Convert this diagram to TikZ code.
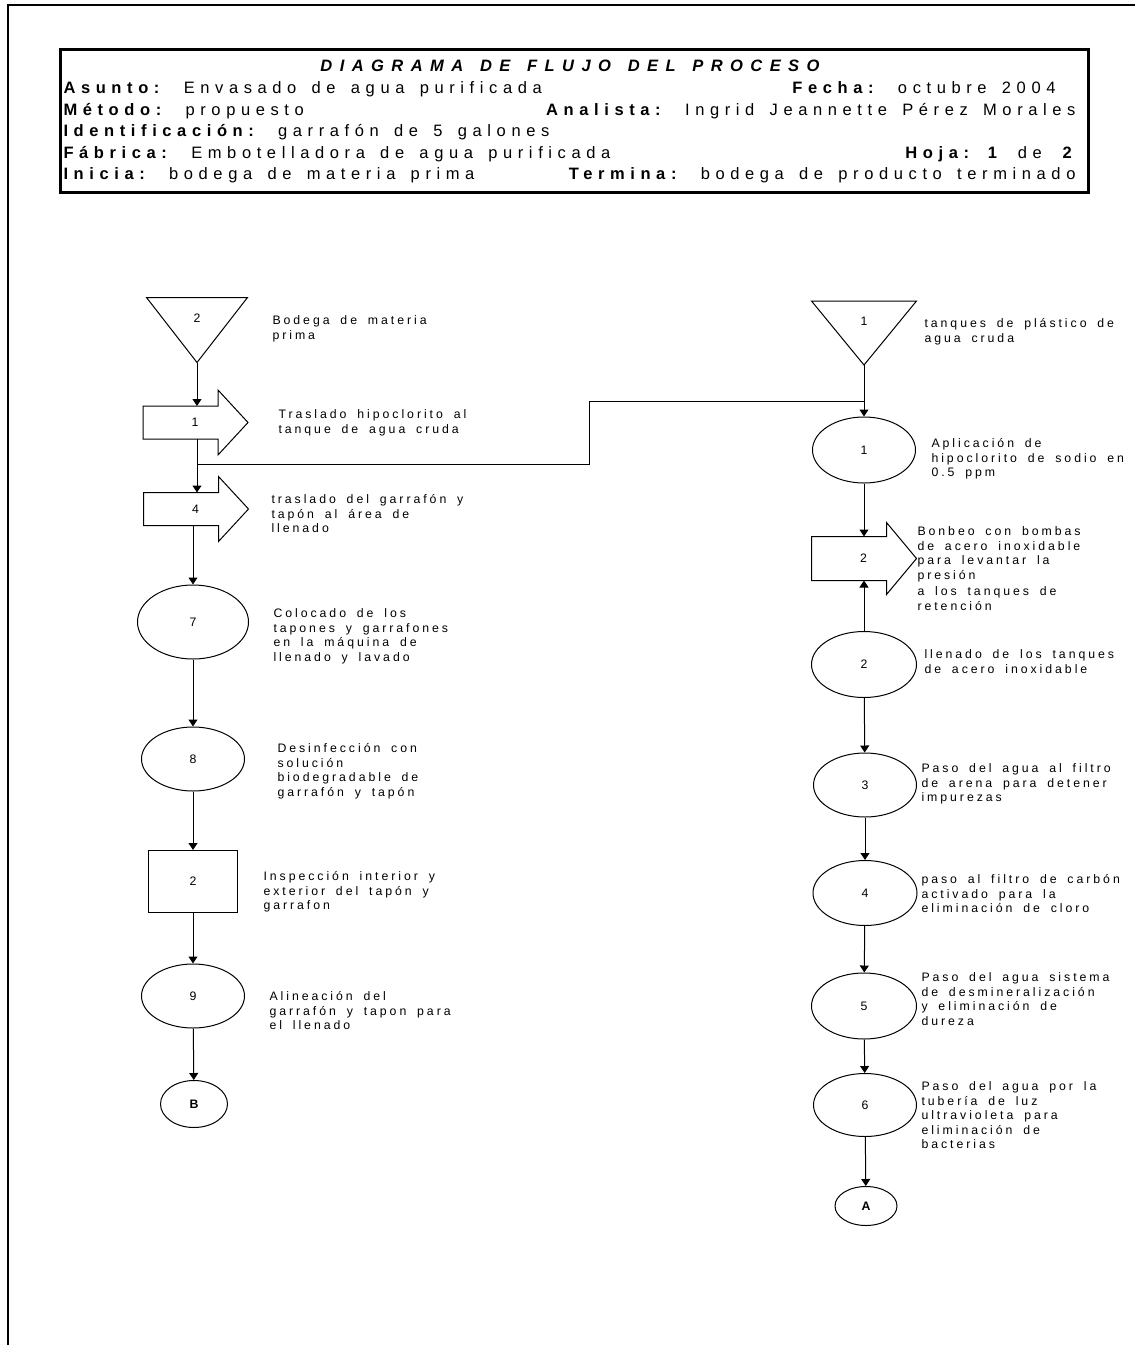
\documentclass[tikz,border=0pt]{standalone}
\usepackage{fontspec}
\setmainfont{Liberation Sans}
\newfontfamily\hdrfont[LetterSpace=34,WordSpace=1.5]{Liberation Sans}
\newfontfamily\titfont[LetterSpace=45,WordSpace=1.4]{Liberation Sans}
\newfontfamily\lblfont[LetterSpace=24,WordSpace=1.7]{Liberation Sans}
\usetikzlibrary{arrows.meta,calc,positioning,shapes.geometric}
\newcommand\hdrsize{\hdrfont\fontsize{16.5}{21.5}\selectfont}
\newcommand\lblsize{\lblfont\fontsize{12.3}{14.6}\selectfont}

\begin{document}
\begin{tikzpicture}[x=1pt,y=-1pt,line width=1pt,>={Triangle[length=7pt,width=9pt]},
 hdr/.style={font=\hdrsize,inner sep=0},
 num/.style={font=\lblsize,inner sep=0},
 lbl/.style={font=\lblsize,align=left,anchor=north west,inner sep=0},
 almbox/.style={minimum width=100,minimum height=64,inner sep=0,
  label={[num,yshift=12]center:#1}},
 trbody/.style={minimum width=74,minimum height=32,inner sep=0,
  label={[num,xshift=14.5]center:#1}},
 oper/.style={ellipse,draw,minimum width=103,minimum height=64,num},
 insp/.style={rectangle,draw,minimum width=89,minimum height=62,num},
 conec/.style={ellipse,draw,num,font=\lblsize\bfseries}]
 \useasboundingbox (0,0) rectangle (1135,1345);
 \draw[line width=2.5] (8,1345) -- (8,5) -- (1135,5);
 \draw[line width=3] (60,49) rectangle (1088,192);
 \node[hdr,anchor=base] (titulo) at (570,71)
  {\titfont\bfseries\itshape DIAGRAMA DE FLUJO DEL PROCESO};
 \node[hdr,anchor=base west] (asunto) at (63,93)
  {\textbf{Asunto:} Envasado de agua purificada};
 \node[hdr,anchor=base east] (fecha) at (1056,93) {\textbf{Fecha:} octubre 2004};
 \node[hdr,anchor=base west] (metodo) at (63,115) {\textbf{Método:} propuesto};
 \node[hdr,anchor=base east] (analista) at (1076,115)
  {\textbf{Analista:} Ingrid Jeannette Pérez Morales};
 \node[hdr,anchor=base west] (ident) at (63,136)
  {\textbf{Identificación:} garrafón de 5 galones};
 \node[hdr,anchor=base west] (fabrica) at (63,158)
  {\textbf{Fábrica:} Embotelladora de agua purificada};
 \node[hdr,anchor=base east] (hoja) at (1078,158) {\textbf{Hoja: 1} de \textbf{2}};
 \node[hdr,anchor=base west] (inicia) at (63,179)
  {\textbf{Inicia:} bodega de materia prima};
 \node[hdr,anchor=base east] (termina) at (1076,179)
  {\textbf{Termina:} bodega de producto terminado};

 \node[almbox=2] (s2) at (197,330) {};
 \node[trbody=1] (t1) at (180.5,422.5) {};
 \node[trbody=4] (t4) at (181,509) {};
 \node[oper,minimum width=111,minimum height=74] (e7) at (193,622) {7};
 \node[oper] (e8) at (193,759) {8};
 \node[insp] (i2) at (193,881.5) {2};
 \node[oper] (e9) at (193,996) {9};
 \node[conec,minimum width=67,minimum height=47] (cB) at (194,1104) {B};

 \node[almbox=1,minimum width=104,minimum height=63] (s1) at (864,333) {};
 \node[oper,minimum height=66] (r1) at (864,450) {1};
 \node[trbody=2,minimum height=43] (t2) at (849,558.5) {};
 \node[oper,minimum width=105,minimum height=66] (r2) at (864,664.5) {2};
 \node[oper] (r3) at (865,785) {3};
 \node[oper,minimum width=104,minimum height=65] (r4) at (865,893) {4};
 \node[oper,minimum width=105,minimum height=66] (r5) at (864,1006) {5};
 \node[oper,minimum height=63] (r6) at (865,1105) {6};
 \node[conec,minimum width=62,minimum height=39] (cA) at (866,1206) {A};

 \foreach \s in {s2,s1}
  \draw (\s.north west) -- (\s.north east) -- (\s.south) -- cycle;
 \foreach \t/\h in {t1/16,t4/16,t2/14}
  \draw (\t.north west) -- (\t.north east) -- ([yshift=\h]\t.north east)
   -- ([xshift=30]\t.east) -- ([yshift=-\h]\t.south east) -- (\t.south east)
   -- (\t.south west) -- cycle;

 \node[lbl] (s2txt) at (272,315) {Bodega de materia\\prima};
 \node[lbl] (t1txt) at (278,409) {Traslado hipoclorito al\\tanque de agua cruda};
 \node[lbl] (t4txt) at (271,494) {traslado del garrafón y\\tapón al área de\\llenado};
 \node[lbl] (e7txt) at (273,608)
  {Colocado de los\\tapones y garrafones\\en la máquina de\\llenado y lavado};
 \node[lbl] (e8txt) at (277,743)
  {Desinfección con\\solución\\biodegradable de\\garrafón y tapón};
 \node[lbl] (i2txt) at (263,871) {Inspección interior y\\exterior del tapón y\\garrafon};
 \node[lbl] (e9txt) at (269,991) {Alineación del\\garrafón y tapon para\\el llenado};
 \node[lbl] (s1txt) at (924,318) {tanques de plástico de\\agua cruda};
 \node[lbl] (r1txt) at (931,438) {Aplicación de\\hipoclorito de sodio en\\0.5 ppm};
 \node[lbl] (t2txt) at (917,526)
  {Bonbeo con bombas\\de acero inoxidable\\para levantar la\\presión\\[2pt]a los tanques de\\retención};
 \node[lbl] (r2txt) at (924,649) {llenado de los tanques\\de acero inoxidable};
 \node[lbl] (r3txt) at (921,763) {Paso del agua al filtro\\de arena para detener\\impurezas};
 \node[lbl] (r4txt) at (921,874)
  {paso al filtro de carbón\\activado para la\\eliminación de cloro};
 \node[lbl] (r5txt) at (921,972)
  {Paso del agua sistema\\de desmineralización\\y eliminación de\\dureza};
 \node[lbl] (r6txt) at (921,1081)
  {Paso del agua por la\\tubería de luz\\ultravioleta para\\eliminación de\\bacterias};

 \draw[->] (s2.south) -- (s2.south |- t1.north);
 \draw[->] (t1.south -| s2.south) -- (t4.north -| s2.south);
 \draw[->] (t4.south -| e7.north) -- (e7.north);
 \draw[->] (e7) -- (e8);
 \draw[->] (e8) -- (i2);
 \draw[->] (i2) -- (e9);
 \draw[->] (e9) -- (cB);
 \draw[->] (s1.south) -- (r1);
 \draw[->] (r1) -- (r1.south |- t2.north);
 \draw[->] (r2) -- (r2.north |- t2.south);
 \draw[->] (r2) -- (r3);
 \draw[->] (r3) -- (r4);
 \draw[->] (r4) -- (r5);
 \draw[->] (r5) -- (r6);
 \draw[->] (r6) -- (cA);
 \coordinate (jl) at (197,464);
 \coordinate (jr) at (864,401);
 \draw (jl) -- (589,464) |- (jr);
\end{tikzpicture}
\end{document}
